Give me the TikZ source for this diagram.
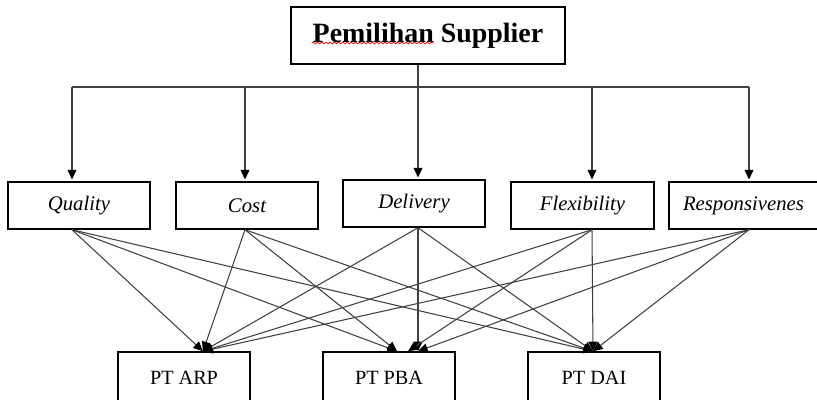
\documentclass[tikz,border=0pt]{standalone}
\usepackage{fontspec}
\setmainfont{Liberation Serif}
\usetikzlibrary{arrows.meta,decorations.pathmorphing}
\begin{document}
\begin{tikzpicture}[
		crit/.style={draw,line width=0.85pt,minimum width=2.84cm,minimum height=0.94cm,inner sep=0pt,font=\fontsize{11.8}{14}\selectfont\itshape},
		alt/.style={draw,line width=0.85pt,minimum width=2.64cm,minimum height=1.04cm,inner sep=0pt,font=\fontsize{11.5}{14}\selectfont},
		link/.style={line width=0.6pt,black!75,-{Triangle[length=5.5pt,width=5pt,color=black]}}
	]
		\useasboundingbox (0,0) rectangle (16.34,8);
		\node[draw,line width=1.1pt,minimum width=5.48cm,minimum height=1.14cm,font=\fontsize{15.9}{18}\selectfont\bfseries] (ttl) at (8.56,7.29) {Pemilihan Supplier};
		\draw[red,line width=0.4pt,decorate,decoration={snake,amplitude=0.5pt,segment length=2.4pt}] (6.24,7.14) -- (8.68,7.14);
		\node[crit] (qua) at (1.58,3.89) {Quality};
		\node[crit] (cst) at (4.94,3.89) {Cost};
		\node[crit] (del) at (8.28,3.93) {Delivery};
		\node[crit,minimum width=2.86cm] (flx) at (11.65,3.89) {Flexibility};
		\node[crit,minimum width=2.98cm] (rsp) at (14.87,3.89) {Responsivenes};
		\node[alt] (arp) at (3.68,0.44) {PT ARP};
		\node[alt] (pba) at (7.78,0.44) {PT PBA};
		\node[alt] (dai) at (11.88,0.44) {PT DAI};
		\foreach \n/\x in {qua/1.44,cst/4.90,del/8.36,flx/11.84,rsp/14.98} {
			\coordinate (\n-top) at (\x,6.26);
			\coordinate (\n-out) at (\n-top |- \n.south);
			\draw[link,shorten >=1pt] (\n-top) -- (\n-top |- \n.north);
		}
		\draw[line width=0.6pt,black!75] (qua-top) -- (rsp-top);
		\draw[line width=0.6pt,black!75] (ttl.south -| del-top) -- (del-top);
		\coordinate (arp-in) at ([xshift=0.38cm]arp.north);
		\coordinate (dai-in) at ([xshift=-0.02cm]dai.north);
		\coordinate (pba-l) at ([xshift=0.16cm]pba.north);
		\coordinate (pba-m) at (del-out |- pba.north);
		\coordinate (pba-r) at ([xshift=0.38cm]pba.north);
		\foreach \n/\p in {qua/pba-l,cst/pba-l,del/pba-m,flx/pba-r,rsp/pba-m} {
			\draw[link] (\n-out) -- (arp-in);
			\draw[link] (\n-out) -- (\p);
			\draw[link] (\n-out) -- (dai-in);
		}
	\end{tikzpicture}
\end{document}
